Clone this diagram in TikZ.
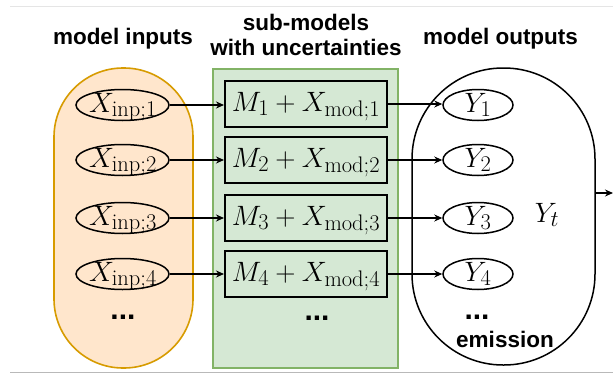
\RequirePackage{fix-cm}
\documentclass[tikz,border=0pt]{standalone}
\usepackage{fontspec}
\newfontfamily\hdr{Liberation Sans}
\usetikzlibrary{shapes.geometric,arrows.meta}
\DeclareMathSizes{28}{28}{22.5}{17}
\definecolor{orfill}{HTML}{FFE6CC}
\definecolor{ordraw}{HTML}{D79B00}
\definecolor{grfill}{HTML}{D5E8D4}
\definecolor{grdraw}{HTML}{82B366}
\tikzset{
  hdrtext/.style={font=\hdr\bfseries\fontsize{22.5}{25}\selectfont, align=center, inner sep=0},
  dotstext/.style={font=\hdr\bfseries\fontsize{30}{30}\selectfont, inner sep=0},
  mathtext/.style={font=\fontsize{28}{31}\selectfont, inner sep=0, text height=19pt, text depth=5pt},
  ell/.style={draw, ellipse, line width=1.5pt, inner sep=0, minimum width=#1, minimum height=31},
  mbox/.style={draw, line width=2pt, minimum width=162, minimum height=46, inner sep=0, text height=19pt, text depth=5pt, font=\fontsize{28}{31}\selectfont},
  arr/.style={-{Stealth[length=8pt,width=7pt]}, line width=1.4pt},
  frameline/.style={line width=1pt}
}
\begin{document}
\begin{tikzpicture}[x=1pt,y=-1pt]
\useasboundingbox (0,0) rectangle (613,375);
\draw[frameline, gray!20] (10,6) -- (613,6);
\draw[frameline, gray!55] (10,372) -- (613,372);

% group backgrounds
\node[draw=ordraw, fill=orfill, line width=1.6pt, rounded corners=69pt, minimum width=139, minimum height=300, inner sep=0] (inbox) at (123.5,218) {};
\node[draw=grdraw, fill=grfill, line width=2pt, minimum width=185, minimum height=299, inner sep=0] (subbox) at (305.5,218.5) {};
\node[draw, line width=1.5pt, rounded corners=91pt, minimum width=183, minimum height=297, inner sep=0] (outbox) at (503.5,216.5) {};

% headers
\node[hdrtext, anchor=base] (h1) at (123,44) {model inputs};
\node[hdrtext, anchor=base] (h2) at (306,55) {sub-models\\with uncertainties};
\node[hdrtext, anchor=base] (h3) at (500.5,44) {model outputs};

% inputs
\node[ell=93] (x1) at (122.5,105) {};
\node[ell=93] (x2) at (122.5,160) {};
\node[ell=93] (x3) at (122.5,218) {};
\node[ell=93] (x4) at (122.5,274) {};
\node[mathtext] (x1t) at (123,105) {$X_{\mathrm{inp};1}$};
\node[mathtext] (x2t) at (123,160) {$X_{\mathrm{inp};2}$};
\node[mathtext] (x3t) at (123,218) {$X_{\mathrm{inp};3}$};
\node[mathtext] (x4t) at (123,274) {$X_{\mathrm{inp};4}$};
\node[dotstext] (xd) at (123,317) {...};

% sub-models
\node[mbox] (m1) at (306,104) {$M_1 + X_{\mathrm{mod};1}$};
\node[mbox] (m2) at (306,160) {$M_2 + X_{\mathrm{mod};2}$};
\node[mbox] (m3) at (306,218) {$M_3 + X_{\mathrm{mod};3}$};
\node[mbox] (m4) at (306,274) {$M_4 + X_{\mathrm{mod};4}$};
\node[dotstext] (md) at (317,318) {...};

% outputs
\node[ell=70] (y1) at (478,105) {};
\node[ell=70] (y2) at (478,160) {};
\node[ell=70] (y3) at (478,218) {};
\node[ell=70] (y4) at (478,274) {};
\node[mathtext] (y1t) at (y1) {$Y_1$};
\node[mathtext] (y2t) at (y2) {$Y_2$};
\node[mathtext] (y3t) at (y3) {$Y_3$};
\node[mathtext] (y4t) at (y4) {$Y_4$};
\node[mathtext] (yt) at (547,215) {$Y_t$};
\node[dotstext] (yd) at (477,317) {...};
\node[hdrtext, anchor=base] (em) at (505,347) {emission};

% connectors
\foreach \i in {1,2,3,4}{
  \draw[arr] (x\i.east) -- (m\i.west |- x\i.east);
  \draw[arr] (m\i.east) -- (y\i.west |- m\i.east);
}
\coordinate (outend) at (613,193);
\draw[arr] (outbox.east |- outend) -- (outend);
\end{tikzpicture}
\end{document}
